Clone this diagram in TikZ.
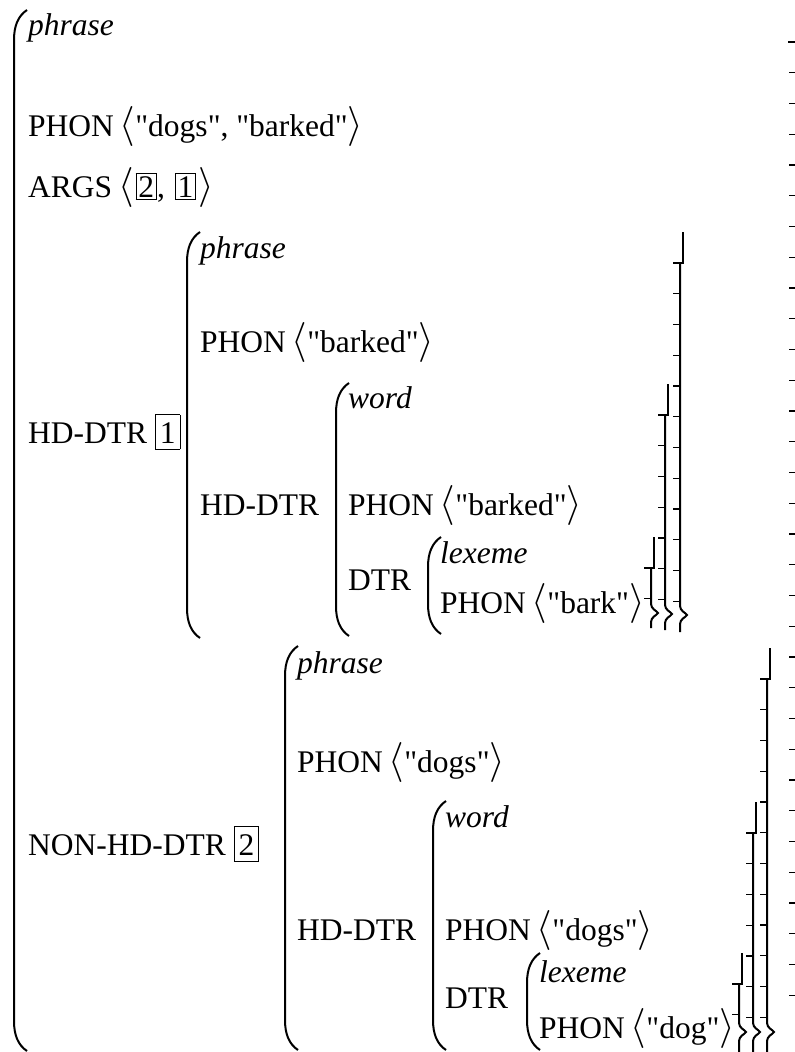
\documentclass[tikz,border=0pt]{standalone}
\usepackage{fontspec}
\setmainfont{Liberation Serif}[Ligatures=TeXOff]
\setlength{\fboxrule}{0.8pt}
\newcommand{\avl}{\hspace{-2pt}\resizebox*{!}{40pt}{\fontsize{10}{12}\selectfont$\langle$}}
\newcommand{\avr}{\resizebox*{!}{40pt}{\fontsize{10}{12}\selectfont$\rangle$}}
\newcommand{\tg}[1]{{\setlength{\fboxsep}{2pt}\hspace{2pt}\fbox{#1}}}
\newcommand{\tgl}[1]{{\setlength{\fboxsep}{0pt}\fbox{\rule[-6pt]{0pt}{34pt}\hspace{4pt}#1\hspace{4pt}}}}
% left parenthesis: x, top, bottom
\newcommand{\avmlp}[3]{%
  \draw[paren] (#1+13,#2) .. controls (#1+4,#2+6) and (#1,#2+16) .. (#1,#2+30)
     -- (#1,#3-30) .. controls (#1,#3-16) and (#1+4,#3-6) .. (#1+13,#3);}
% right bracket: x, top, bottom, tip, number of ticks
\newcommand{\avmrb}[5]{%
  \draw[rbr] (#1+3,#2) -- (#1+3,#2+31) -- (#1-7,#2+31);
  \draw[rbr] (#1,#2+31) -- (#1,#4-9) .. controls (#1,#4-4) and (#1+6,#4-2) .. (#1+7,#4)
     .. controls (#1+6,#4+2) and (#1,#4+4) .. (#1,#4+9) -- (#1,#3);
  \foreach \k in {1,...,#5} {\draw[tk] (#1-7,#2+31+30.75*\k) -- (#1,#2+31+30.75*\k);}}
\begin{document}
\begin{tikzpicture}[x=1pt,y=-1pt,
  lbl/.style={anchor=base west,inner sep=0pt,font=\fontsize{31.5}{38}\selectfont},
  typ/.style={anchor=base west,inner sep=0pt,font=\fontsize{31.5}{38}\selectfont\itshape},
  paren/.style={line width=2pt},
  rbr/.style={line width=2pt},
  tk/.style={line width=1.1pt},
  dsh/.style={line width=1.2pt}]
\useasboundingbox (0,0) rectangle (795,1052);
\fill[white] (0,0) rectangle (795,1052);

% outer AVM
\avmlp{14}{10}{1051}
\node[typ] (t0) at (28,35) {phrase};
\node[lbl] (p0) at (28,136) {PHON \avl"dogs", "barked"\avr};
\node[lbl] (a0) at (28,197) {ARGS \avl\tg{2}, \tg{1}\hspace{2pt}\avr};
\node[lbl] (h0) at (28,443) {HD-DTR \tgl{1}};
\node[lbl] (n0) at (28,855) {NON-HD-DTR \tgl{2}};
\draw[line width=2pt] (788,42) -- (795,42);
\foreach \k in {1,...,31} {\draw[dsh] (789,42+30.75*\k) -- (795,42+30.75*\k);}

% HD-DTR 1 : phrase "barked"
\avmlp{187}{232}{638}
\node[typ] (t1) at (200,258) {phrase};
\node[lbl] (p1) at (200,352) {PHON \avl"barked"\avr};
\node[lbl] (h1) at (200,515) {HD-DTR};
\avmrb{680}{232}{632}{615}{11}

% word "barked"
\avmlp{336}{383}{636}
\node[typ] (t2) at (348,408) {word};
\node[lbl] (p2) at (348,515) {PHON \avl"barked"\avr};
\node[lbl] (d2) at (348,590) {DTR};
\avmrb{665}{384}{630}{614}{6}

% lexeme "bark"
\avmlp{428}{537}{634}
\node[typ] (t3) at (440,563) {lexeme};
\node[lbl] (p3) at (440,613) {PHON \avl"bark"\avr};
\avmrb{651}{537}{628}{613}{1}

% NON-HD-DTR 2 : phrase "dogs"
\avmlp{285}{646}{1050}
\node[typ] (t4) at (297,673) {phrase};
\node[lbl] (p4) at (297,772) {PHON \avl"dogs"\avr};
\node[lbl] (h4) at (297,940) {HD-DTR};
\avmrb{767}{648}{1052}{1032}{11}

% word "dogs"
\avmlp{433}{801}{1050}
\node[typ] (t5) at (445,827) {word};
\node[lbl] (p5) at (445,940) {PHON \avl"dogs"\avr};
\node[lbl] (d5) at (445,1008) {DTR};
\avmrb{753}{802}{1052}{1032}{6}

% lexeme "dog"
\avmlp{527}{953}{1050}
\node[typ] (t6) at (539,982) {lexeme};
\node[lbl] (p6) at (539,1038) {PHON \avl"dog"\avr};
\avmrb{739}{953}{1052}{1032}{1}
\end{tikzpicture}
\end{document}
